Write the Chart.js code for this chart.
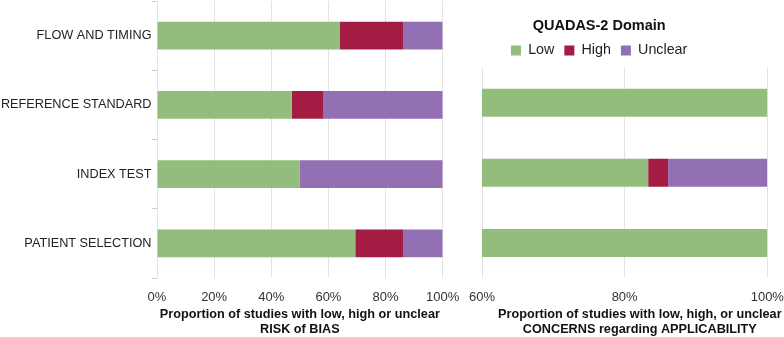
<!DOCTYPE html>
<html>
<head>
<meta charset="utf-8">
<script src="https://cdn.jsdelivr.net/npm/chart.js@4"></script>
<style>
  html, body { margin: 0; padding: 0; background: #fff; overflow: hidden; }
  #wrap { position: relative; width: 784px; height: 337px; }
  #biasChart { position: absolute; left: 0; top: 0; }
  #applChart { position: absolute; left: 430.7px; top: 0; }
</style>
</head>
<body>
<div id="wrap">
  <canvas id="biasChart" width="470" height="337"></canvas>
  <canvas id="applChart" width="353" height="337"></canvas>
</div>
<script>
const FONT = "'Liberation Sans', Arial, Helvetica, sans-serif";

const GREEN = '#92bd7c';
const RED = '#a41c43';
const PURPLE = '#9370b3';

// risk of bias (percent of 36 studies)
const biasLabels = ['FLOW AND TIMING', 'REFERENCE STANDARD', 'INDEX TEST', 'PATIENT SELECTION'];
const biasLow = [63.9, 47.2, 50.0, 69.4];
const biasHigh = [22.2, 11.1, 0, 16.7];
const biasUnclear = [13.9, 41.7, 50.0, 13.9];
const biasTicks = [0, 20, 40, 60, 80, 100];
const biasCaption = ['Proportion of studies with low, high or unclear', 'RISK of BIAS'];

// applicability concerns
const applLabels = ['REFERENCE STANDARD', 'INDEX TEST', 'PATIENT SELECTION'];
const applLow = [100, 83.3, 100];
const applHigh = [0, 2.8, 0];
const applUnclear = [0, 13.9, 0];
const applTicks = [60, 80, 100];
const applCaption = ['Proportion of studies with low, high, or unclear', 'CONCERNS regarding APPLICABILITY'];

const legendTitle = 'QUADAS-2 Domain';
const seriesNames = ['Low', 'High', 'Unclear'];

function makeDatasets(low, high, unclear) {
  return [
    { label: seriesNames[0], data: low, backgroundColor: GREEN },
    { label: seriesNames[1], data: high, backgroundColor: RED },
    { label: seriesNames[2], data: unclear, backgroundColor: PURPLE }
  ].map(d => ({ ...d, borderWidth: 0, barPercentage: 0.4, categoryPercentage: 1 }));
}

function xScale(ticks, height) {
  return {
    stacked: true,
    min: ticks[0],
    max: ticks[ticks.length - 1],
    z: 1,
    border: { display: false },
    grid: { color: 'rgba(0,0,0,0.11)', drawTicks: false },
    afterBuildTicks: (s) => { s.ticks = ticks.map(v => ({ value: v })); },
    // keep the plot edges where the layout padding puts them
    afterFit: (s) => { s.height = height; s.paddingLeft = 0; s.paddingRight = 0; },
    ticks: {
      padding: 12,
      color: '#333',
      font: { family: FONT, size: 13 },
      callback: v => v + '%'
    }
  };
}

// caption under the right panel is not centred on its axis, so draw it here
const captionPlugin = {
  id: 'caption',
  afterDraw(chart, args, opts) {
    const ctx = chart.ctx;
    const top = chart.scales.x.bottom;
    ctx.save();
    ctx.font = 'bold 12.7px ' + FONT;
    ctx.fillStyle = '#111';
    ctx.textAlign = 'center';
    ctx.textBaseline = 'middle';
    opts.lines.forEach((line, i) => ctx.fillText(line, opts.x, top + 10.5 + i * 15));
    ctx.restore();
  }
};

new Chart(document.getElementById('biasChart'), {
  type: 'bar',
  data: { labels: biasLabels, datasets: makeDatasets(biasLow, biasHigh, biasUnclear) },
  options: {
    indexAxis: 'y',
    responsive: false,
    animation: false,
    layout: { padding: { top: 1, right: 27.3, bottom: 0, left: 0 } },
    plugins: { legend: { display: false }, tooltip: { enabled: false } },
    scales: {
      x: {
        ...xScale(biasTicks, 59),
        title: {
          display: true,
          text: biasCaption,
          color: '#111',
          padding: { top: 2, bottom: 0 },
          font: { family: FONT, size: 12.7, weight: 'bold', lineHeight: 1.18 }
        }
      },
      y: {
        stacked: true,
        border: { display: false },
        grid: { drawOnChartArea: false, drawTicks: true, tickLength: 5, color: '#cfcfcf' },
        ticks: { padding: 0.5, color: '#222', font: { family: FONT, size: 12.7 } },
        afterFit: (s) => { s.width = 157; s.paddingTop = 0; s.paddingBottom = 0; }
      }
    }
  }
});

new Chart(document.getElementById('applChart'), {
  type: 'bar',
  data: { labels: applLabels, datasets: makeDatasets(applLow, applHigh, applUnclear) },
  plugins: [captionPlugin],
  options: {
    indexAxis: 'y',
    responsive: false,
    animation: false,
    layout: { padding: { top: 0.5, right: 16.7, bottom: 33, left: 0 } },
    plugins: {
      tooltip: { enabled: false },
      caption: { lines: applCaption, x: 208.8 },
      legend: {
        position: 'top',
        align: 'center',
        title: {
          display: true,
          text: legendTitle,
          color: '#111',
          padding: { top: 18, bottom: -2.5 },
          font: { family: FONT, size: 14.5, weight: 'bold' }
        },
        labels: {
          boxWidth: 10,
          boxHeight: 10,
          padding: 10,
          color: '#222',
          font: { family: FONT, size: 14.3 }
        }
      }
    },
    scales: {
      x: xScale(applTicks, 26),
      y: {
        stacked: true,
        border: { display: false },
        grid: { drawOnChartArea: false, drawTicks: false },
        ticks: { display: false },
        afterFit: (s) => { s.width = 51; s.paddingTop = 0; s.paddingBottom = 0; }
      }
    }
  }
});
</script>
</body>
</html>
